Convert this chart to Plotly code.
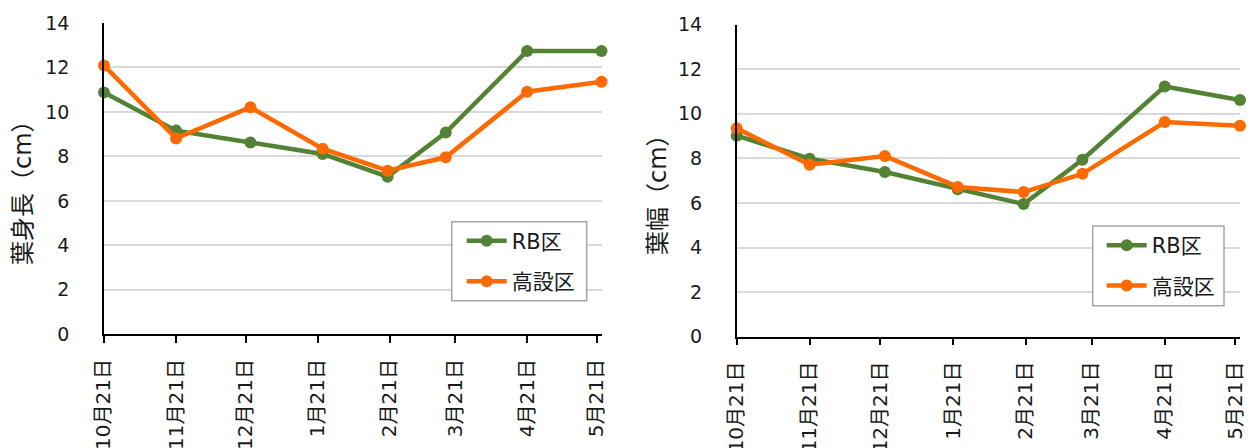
import plotly.graph_objects as go

# Sampling dates (days of measurement) and monthly tick marks
dates = ["2018-10-21", "2018-11-21", "2018-12-23", "2019-01-23",
         "2019-02-20", "2019-03-17", "2019-04-21", "2019-05-23"]
tick_dates = ["2018-10-21", "2018-11-21", "2018-12-21", "2019-01-21",
              "2019-02-21", "2019-03-21", "2019-04-21", "2019-05-21"]
tick_labels = ["10月21日", "11月21日", "12月21日", "1月21日",
               "2月21日", "3月21日", "4月21日", "5月21日"]

series_names = ["RB区", "高設区"]

# 葉身長 (cm)
length_rb = [10.88, 9.16, 8.63, 8.11, 7.09, 9.07, 12.74, 12.74]
length_kosetsu = [12.09, 8.81, 10.21, 8.35, 7.36, 7.96, 10.91, 11.36]

# 葉幅 (cm)
width_rb = [9.02, 7.99, 7.39, 6.62, 5.95, 7.94, 11.23, 10.62]
width_kosetsu = [9.35, 7.72, 8.11, 6.72, 6.49, 7.31, 9.63, 9.47]

y_ticks = [0, 2, 4, 6, 8, 10, 12, 14]

GREEN = "#548235"
ORANGE = "#FF6A00"
TEXT = "#1a1a1a"
FONT = "Verdana, DejaVu Sans, Noto Sans CJK JP, sans-serif"
W, H = 1254, 448

# plot-area boxes in pixels: (left, right, top, bottom)
PANELS = [(104, 601.5, 23, 334.3), (736.7, 1240, 24.7, 336.7)]
# legend frames in pixels: (left, right, top, bottom)
FRAMES = [(451.7, 586.7, 221.7, 300.7), (1092.7, 1224, 226, 305.7)]

fig = go.Figure()


def add_series(y, name, color, xa, ya, legend):
    fig.add_trace(go.Scatter(
        x=dates, y=y, name=name, mode="lines+markers",
        line=dict(color=color, width=4.5),
        marker=dict(color=color, size=12),
        xaxis=xa, yaxis=ya, legend=legend, legendgroup=name + legend,
        cliponaxis=False,
    ))


add_series(length_rb, series_names[0], GREEN, "x", "y", "legend")
add_series(length_kosetsu, series_names[1], ORANGE, "x", "y", "legend")
add_series(width_rb, series_names[0], GREEN, "x2", "y2", "legend2")
add_series(width_kosetsu, series_names[1], ORANGE, "x2", "y2", "legend2")

xaxis_common = dict(
    type="date", range=[dates[0], dates[-1]],
    tickmode="array", tickvals=tick_dates, ticktext=tick_labels,
    tickangle=-90, ticks="outside", ticklen=7, tickwidth=1.5, tickcolor="black",
    showline=True, linecolor="black", linewidth=1.5,
    showgrid=False, zeroline=False, automargin=False,
    tickfont=dict(family=FONT, size=20, color=TEXT),
    ticklabelstandoff=8,
)
yaxis_common = dict(
    range=[0, 14], tickmode="array", tickvals=y_ticks,
    showline=True, linecolor="black", linewidth=1.5,
    showgrid=True, gridcolor="#d9d9d9", gridwidth=1.5,
    zeroline=False, ticks="", automargin=False,
    tickfont=dict(family=FONT, size=19, color=TEXT),
    ticklabelstandoff=29,
)

legend_common = dict(
    xanchor="left", yanchor="top", bgcolor="rgba(0,0,0,0)",
    borderwidth=0, itemwidth=40,
    font=dict(family=FONT, size=21, color=TEXT),
    traceorder="grouped", tracegroupgap=10,
)

# white legend frames, drawn over the plot area (no data passes under them)
shapes = [
    dict(type="rect", xref="paper", yref="paper",
         x0=fl / W, x1=fr / W, y0=1 - fb / H, y1=1 - ft / H,
         line=dict(color="#a6a6a6", width=1.5), fillcolor="white",
         layer="above")
    for (fl, fr, ft, fb) in FRAMES
]

fig.update_layout(
    width=W, height=H, autosize=False,
    margin=dict(l=0, r=0, t=0, b=0),
    paper_bgcolor="white", plot_bgcolor="white",
    showlegend=True,
    xaxis=dict(domain=[PANELS[0][0] / W, PANELS[0][1] / W], anchor="y", **xaxis_common),
    yaxis=dict(domain=[1 - PANELS[0][3] / H, 1 - PANELS[0][2] / H], anchor="x", **yaxis_common),
    xaxis2=dict(domain=[PANELS[1][0] / W, PANELS[1][1] / W], anchor="y2", **xaxis_common),
    yaxis2=dict(domain=[1 - PANELS[1][3] / H, 1 - PANELS[1][2] / H], anchor="x2", **yaxis_common),
    legend=dict(x=(FRAMES[0][0] + 10) / W, y=1 - (FRAMES[0][2] - 1) / H, **legend_common),
    legend2=dict(x=(FRAMES[1][0] + 9) / W, y=1 - (FRAMES[1][2] - 1) / H, **legend_common),
    shapes=shapes,
    annotations=[
        dict(text="葉身長（cm）", x=23 / W, y=1 - 187 / H, xref="paper", yref="paper",
             textangle=-90, showarrow=False, xanchor="center", yanchor="middle",
             font=dict(family=FONT, size=24, color=TEXT)),
        dict(text="葉幅（cm）", x=658 / W, y=1 - 189 / H, xref="paper", yref="paper",
             textangle=-90, showarrow=False, xanchor="center", yanchor="middle",
             font=dict(family=FONT, size=24, color=TEXT)),
    ],
)

fig.write_html("out.html")
